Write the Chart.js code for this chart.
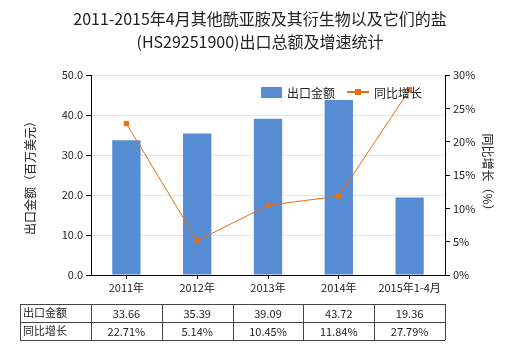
<!DOCTYPE html>
<html>
<head>
<meta charset="utf-8">
<script src="https://cdn.jsdelivr.net/npm/chart.js@4"></script>
<style>
  body { margin: 0; background: #fff; }
  #wrap { width: 520px; height: 350px; }
</style>
</head>
<body>
<div id="wrap"><canvas id="chart" width="520" height="350"></canvas></div>
<script>
// data
const categories = ['2011年', '2012年', '2013年', '2014年', '2015年1-4月'];
const exportValues = [33.66, 35.39, 39.09, 43.72, 19.36];
const growthRates = [22.71, 5.14, 10.45, 11.84, 27.79];
const exportLabels = ['33.66', '35.39', '39.09', '43.72', '19.36'];
const growthLabels = ['22.71%', '5.14%', '10.45%', '11.84%', '27.79%'];

const FONT = '"Microsoft YaHei", "Noto Sans CJK SC", sans-serif';
const BAR = 'rgb(85, 140, 212)';
const LINE = 'rgb(230, 110, 20)';

// title, axis titles, legend and data table
const extras = {
  id: 'extras',
  afterDraw(chart) {
    const ctx = chart.ctx;
    const area = chart.chartArea;
    const x = chart.scales.x;
    ctx.save();
    ctx.fillStyle = '#222';
    ctx.font = '16px ' + FONT;
    ctx.textAlign = 'center';
    ctx.textBaseline = 'middle';
    ctx.fillText('2011-2015年4月其他酰亚胺及其衍生物以及它们的盐', 260, 19);
    ctx.fillText('(HS29251900)出口总额及增速统计', 260, 42);

    // axis titles
    ctx.font = '12px ' + FONT;
    ctx.save();
    ctx.translate(30, 175);
    ctx.rotate(-Math.PI / 2);
    ctx.fillText('出口金额（百万美元）', 0, 0);
    ctx.restore();
    ctx.save();
    ctx.translate(488, 175);
    ctx.rotate(Math.PI / 2);
    ctx.fillText('同比增长（%）', 0, 0);
    ctx.restore();

    // legend
    ctx.textAlign = 'left';
    ctx.fillStyle = BAR;
    ctx.fillRect(261, 87, 21, 11);
    ctx.fillStyle = '#222';
    ctx.fillText('出口金额', 287, 93);
    ctx.strokeStyle = LINE;
    ctx.lineWidth = 2;
    ctx.beginPath();
    ctx.moveTo(347, 92);
    ctx.lineTo(369, 92);
    ctx.stroke();
    ctx.fillStyle = LINE;
    ctx.fillRect(355, 89, 6, 6);
    ctx.fillStyle = '#222';
    ctx.fillText('同比增长', 374, 93);

    // data table
    const top = 304, rowH = 18, left = 20;
    const step = x.getPixelForValue(1) - x.getPixelForValue(0);
    const edges = [left, area.left];
    for (let i = 0; i < categories.length; i++) edges.push(area.left + step * (i + 1));
    ctx.strokeStyle = '#444';
    ctx.lineWidth = 1;
    ctx.beginPath();
    for (let r = 0; r <= 2; r++) {
      ctx.moveTo(left, top + r * rowH + 0.5);
      ctx.lineTo(edges[edges.length - 1], top + r * rowH + 0.5);
    }
    edges.forEach(e => {
      ctx.moveTo(Math.round(e) + 0.5, top);
      ctx.lineTo(Math.round(e) + 0.5, top + 2 * rowH);
    });
    ctx.stroke();
    ctx.font = '11px ' + FONT;
    ctx.fillStyle = '#222';
    ctx.textAlign = 'left';
    ctx.fillText('出口金额', left + 3, top + rowH / 2);
    ctx.fillText('同比增长', left + 3, top + rowH * 1.5);
    ctx.textAlign = 'center';
    categories.forEach((c, i) => {
      const cx = x.getPixelForValue(i);
      ctx.fillText(exportLabels[i], cx, top + rowH / 2 + 1);
      ctx.fillText(growthLabels[i], cx, top + rowH * 1.5 + 1);
    });
    ctx.restore();
  }
};

new Chart(document.getElementById('chart').getContext('2d'), {
  data: {
    labels: categories,
    datasets: [
      {
        type: 'line',
        label: '同比增长',
        data: growthRates,
        yAxisID: 'y1',
        borderColor: LINE,
        backgroundColor: LINE,
        borderWidth: 1,
        pointStyle: 'rect',
        pointRadius: 3,
        tension: 0,
        order: 0,
      },
      {
        type: 'bar',
        label: '出口金额',
        data: exportValues,
        yAxisID: 'y',
        backgroundColor: BAR,
        categoryPercentage: 1,
        barPercentage: 0.4,
        order: 1,
      },
    ],
  },
  options: {
    responsive: false,
    animation: false,
    layout: { padding: { top: 75, bottom: 50, left: 0, right: 0 } },
    plugins: {
      legend: { display: false },
      title: { display: false },
      tooltip: { enabled: false },
    },
    scales: {
      x: {
        grid: { drawOnChartArea: false, offset: false, tickColor: '#000', tickLength: 4 },
        border: { color: '#000' },
        ticks: { color: '#222', font: { size: 11, family: FONT }, maxRotation: 0, padding: 2 },
        afterFit: s => { s.height = 25; },
      },
      y: {
        position: 'left',
        min: 0,
        max: 50,
        ticks: { stepSize: 10, color: '#222', font: { size: 11, family: FONT }, callback: v => v.toFixed(1), padding: 3 },
        grid: { color: '#e4e4e4', tickColor: '#000', tickLength: 5 },
        border: { color: '#000' },
        afterFit: s => { s.width = 91; },
      },
      y1: {
        position: 'right',
        min: 0,
        max: 30,
        ticks: { stepSize: 5, color: '#222', font: { size: 11, family: FONT }, callback: v => v + '%', padding: 3 },
        grid: { drawOnChartArea: false, tickColor: '#000', tickLength: 5 },
        border: { color: '#000' },
        afterFit: s => { s.width = 75; },
      },
    },
  },
  plugins: [extras],
});
</script>
</body>
</html>
